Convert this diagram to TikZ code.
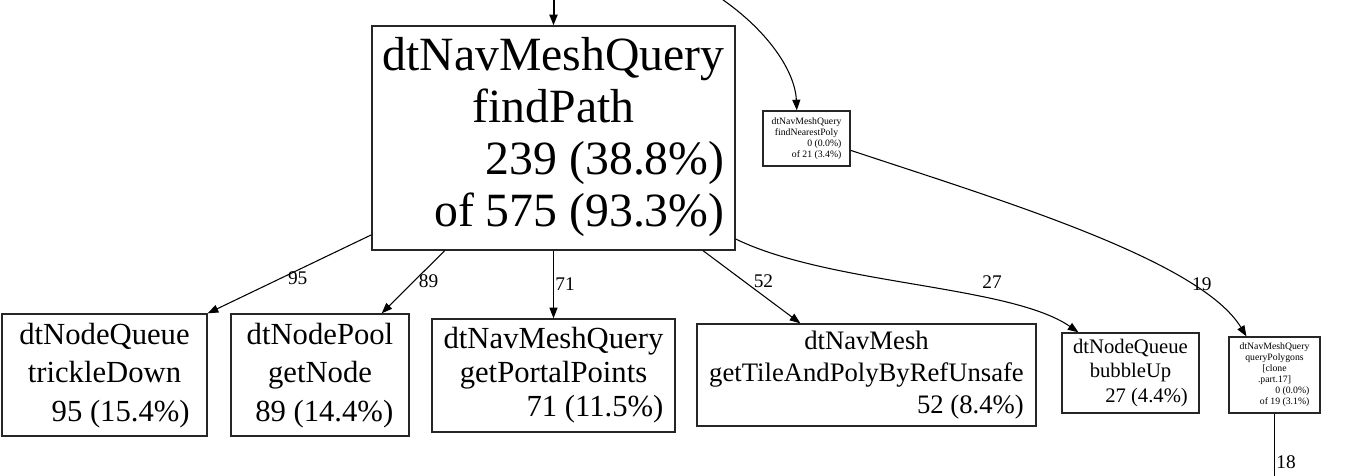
\documentclass[tikz,border=0pt]{standalone}
\usepackage{fontspec}
\setmainfont{Liberation Serif}
\usetikzlibrary{arrows.meta,positioning}
\newcommand{\fn}[1]{\begin{tabular}{@{}c@{}}#1\end{tabular}}
\newcommand{\rline}[1]{\multicolumn{1}{@{}r@{}}{#1}}

\begin{document}
\begin{tikzpicture}[
    x=0.75pt, y=-0.75pt,
    fnbox/.style={draw=black!85, line width=1pt, rectangle, inner sep=0pt, align=center},
    boxsize/.style 2 args={minimum width=#1*0.75pt, minimum height=#2*0.75pt},
    fs/.style 2 args={font=\fontsize{#1}{#2}\selectfont},
    arrow/.style={-{Triangle[length=8pt,width=6pt]}, line width=0.8pt},
    lbl/.style={font=\fontsize{14.5}{16}\selectfont, inner sep=1pt}
]
    \useasboundingbox (0,0) rectangle (1371,475);

    \node[fnbox, boxsize={363}{224}, fs={35.8}{39}] (main) at (553.5,138)
        {\fn{dtNavMeshQuery\\findPath\\\rline{239 (38.8\%)}\\\rline{of 575 (93.3\%)}}};
    \node[fnbox, boxsize={87}{55}, fs={7.3}{8.3}] (near) at (806.5,138.5)
        {\fn{dtNavMeshQuery\\findNearestPoly\\\rline{0 (0.0\%)}\\\rline{of 21 (3.4\%)}}};

    \node[fnbox, boxsize={205}{122}, fs={23}{29}] (trickle) at (104.5,375)
        {\fn{dtNodeQueue\\trickleDown\\\rline{95 (15.4\%)}}};
    \node[fnbox, boxsize={178}{122}, fs={23}{29}] (getnode) at (320,375)
        {\fn{dtNodePool\\getNode\\\rline{89 (14.4\%)}}};
    \node[fnbox, boxsize={243}{113}, fs={23}{25.5}] (portal) at (553.5,375.5)
        {\fn{dtNavMeshQuery\\getPortalPoints\\\rline{71 (11.5\%)}}};
    \node[fnbox, boxsize={339}{102}, fs={20}{24}] (tile) at (866.5,375)
        {\fn{dtNavMesh\\getTileAndPolyByRefUnsafe\\\rline{52 (8.4\%)}}};
    \node[fnbox, boxsize={137}{80}, fs={15.5}{18.5}] (bubble) at (1130.5,373)
        {\fn{dtNodeQueue\\bubbleUp\\\rline{27 (4.4\%)}}};
    \node[fnbox, boxsize={91}{76}, fs={7.3}{8.3}] (qpoly) at (1274.5,375)
        {\fn{dtNavMeshQuery\\queryPolygons\\{[}clone\\.part.17{]}\\\rline{0 (0.0\%)}\\\rline{of 19 (3.1\%)}}};

    \coordinate (topmain) at (553.5,-10);
    \coordinate (topnear) at (708,-10);
    \coordinate (qout) at (1274.5,495);

    \draw[arrow, line width=1.5pt] (topmain) -- (main.north);
    \draw[arrow] (topnear) .. controls (765,25) and (795,70) .. (near.109);

    \draw[arrow] (main.208) -- node[lbl, pos=.45, below] {95} (trickle.north east);
    \draw[arrow] (main.226) -- node[lbl, pos=.48, right=2pt] {89} (getnode.45);
    \draw[arrow] (main.south) -- node[lbl, right] {71} (portal.north);
    \draw[arrow] (main.323) -- node[lbl, pos=.42, right=6pt] {52} (tile.142);
    \draw[arrow] (main.331) .. controls (830,285) and (1010,285) .. node[lbl, pos=.7, above=7pt] {27} (bubble.142);
    \draw[arrow] (near.345) .. controls (1000,200) and (1200,260) .. node[lbl, pos=.8, above] {19} (qpoly.126);
    \draw[arrow] (qpoly.south) -- node[lbl, pos=.6, right] {18} (qout);
\end{tikzpicture}
\end{document}
